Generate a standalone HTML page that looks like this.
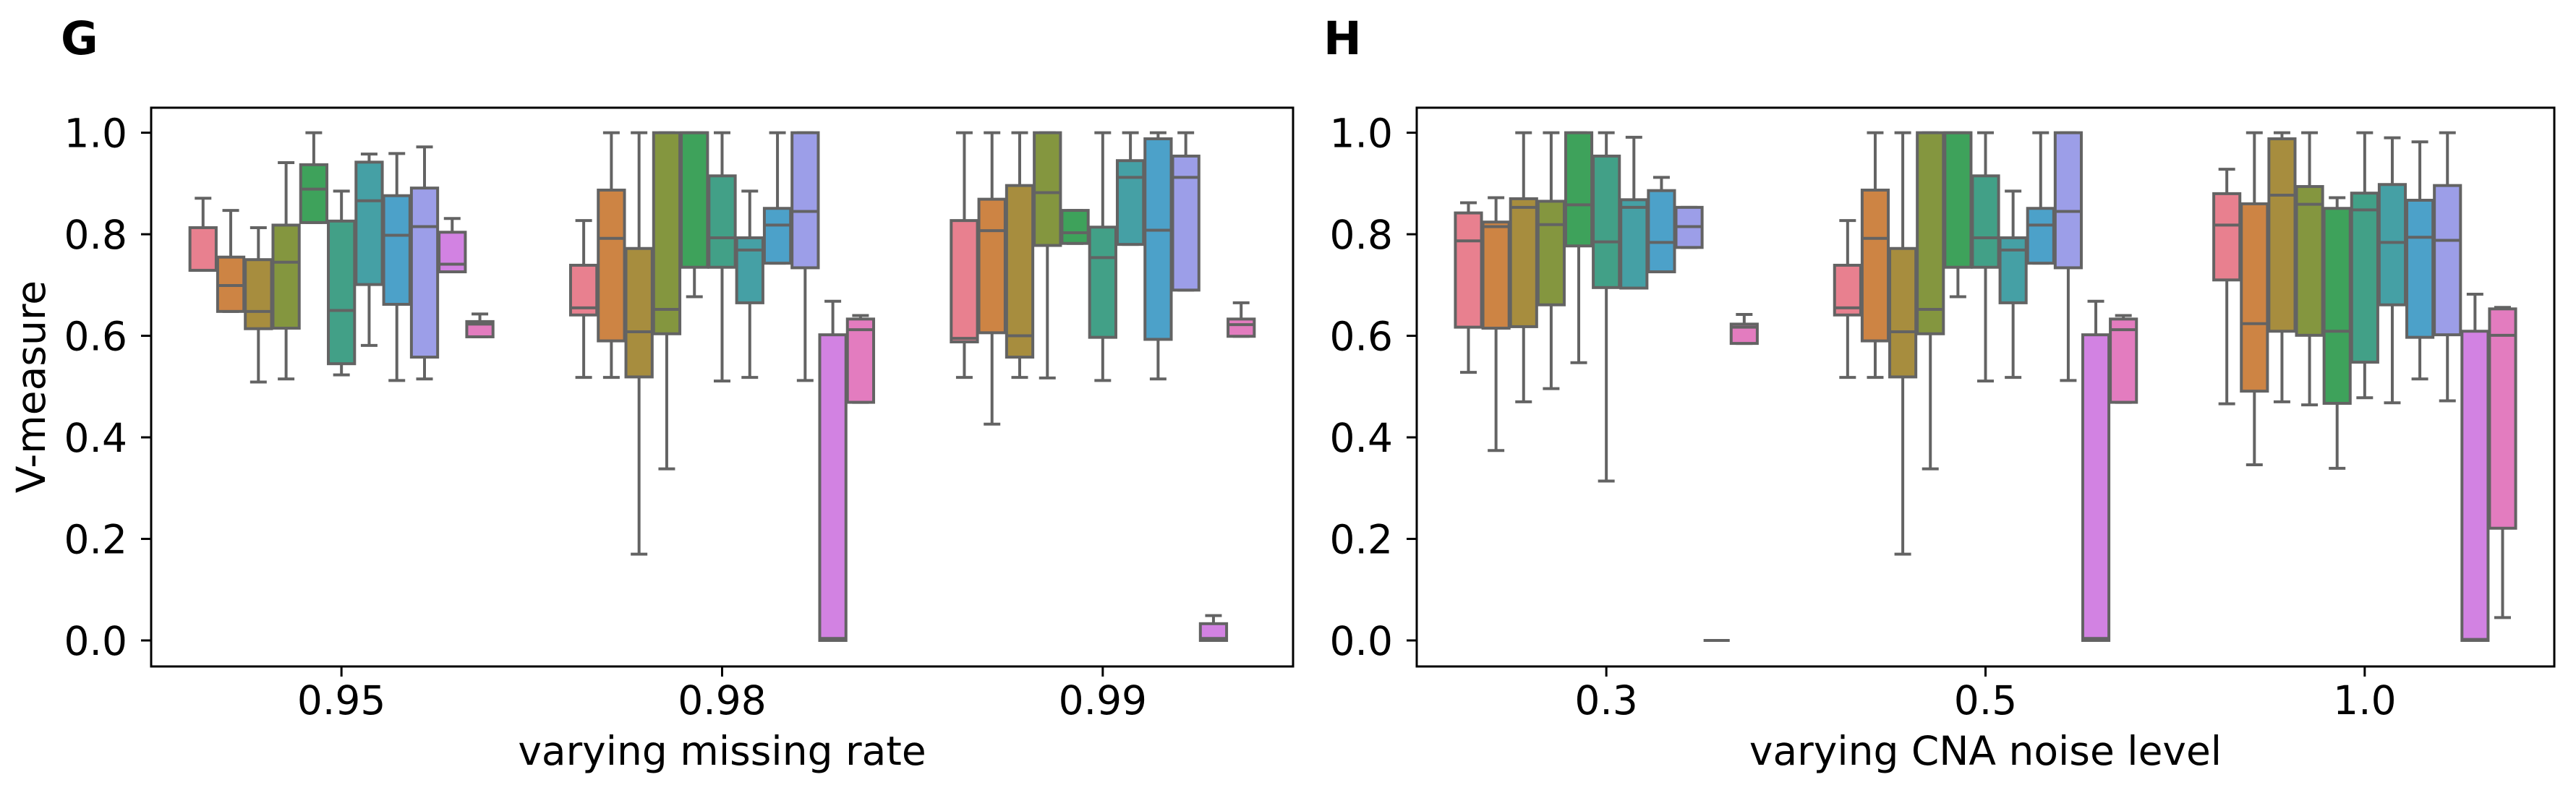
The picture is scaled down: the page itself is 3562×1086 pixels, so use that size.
<!DOCTYPE html>
<html><head><meta charset="utf-8"><style>
html,body{margin:0;padding:0;background:#fff;}
svg{display:block;font-family:"DejaVu Sans","Liberation Sans",sans-serif;}
</style></head><body>
<svg id="chart" width="3562" height="1086" viewBox="0 0 3562 1086" xmlns="http://www.w3.org/2000/svg">
<rect width="3562" height="1086" fill="#fff"/>
<text x="84" y="75" font-size="63" font-weight="bold">G</text>
<text x="1830" y="75" font-size="63" font-weight="bold">H</text>
<text transform="translate(62,535) rotate(-90)" text-anchor="middle" font-size="55">V-measure</text>
<g id="panels"></g>
</svg>
<script>
const hueColors = ["#e8808f","#cd8444","#a78d3e","#84963f","#3ea25b","#42a087","#45a0a5","#4ca1c9","#9c9ee8","#d282e2","#e37cbf"];
const yTicks = [0.0,0.2,0.4,0.6,0.8,1.0];
const yTickLabels = ["0.0","0.2","0.4","0.6","0.8","1.0"];

const gCategories = ["0.95","0.98","0.99"];
const gLo  = [[.729,.648,.509,.515,.823,.523,.581,.512,.515,.726,.598],[.518,.518,.170,.338,.677,.511,.518,.743,.512,0,.469],[.518,.426,.518,.517,.782,.512,.780,.515,.690,0,.599]];
const gQ1  = [[.729,.648,.614,.615,.823,.545,.701,.662,.558,.726,.598],[.641,.590,.519,.604,.735,.735,.665,.743,.734,0,.469],[.588,.606,.558,.778,.782,.597,.780,.593,.690,0,.599]];
const gMed = [[.729,.699,.648,.745,.889,.650,.866,.798,.815,.741,.623],[.655,.792,.608,.652,1.0,.793,.769,.818,.845,.004,.612],[.595,.807,.600,.882,.803,.754,.912,.808,.912,.004,.622]];
const gQ3  = [[.813,.755,.750,.818,.937,.826,.942,.876,.891,.804,.628],[.739,.887,.772,1.0,1.0,.915,.793,.851,1.0,.602,.633],[.827,.869,.896,1.0,.847,.814,.945,.988,.954,.033,.633]];
const gHi  = [[.871,.847,.813,.941,1.0,.885,.958,.959,.972,.831,.643],[.827,1.0,1.0,1.0,1.0,1.0,.885,1.0,1.0,.668,.640],[1.0,1.0,1.0,1.0,.847,1.0,1.0,1.0,1.0,.049,.665]];

const hCategories = ["0.3","0.5","1.0"];
const hLo  = [[.528,.374,.470,.496,.547,.314,.694,.726,.774,0,.585],[.518,.518,.170,.338,.677,.511,.518,.743,.512,0,.469],[.466,.346,.470,.464,.339,.478,.468,.515,.472,0,.045]];
const hQ1  = [[.617,.615,.618,.661,.777,.695,.694,.726,.774,0,.585],[.641,.590,.519,.604,.735,.735,.665,.743,.734,0,.469],[.710,.491,.609,.601,.467,.548,.661,.597,.602,0,.221]];
const hMed = [[.787,.815,.853,.819,.858,.785,.853,.784,.815,0,.617],[.655,.792,.608,.652,1.0,.793,.769,.818,.845,.004,.612],[.818,.624,.877,.859,.609,.848,.784,.794,.788,.002,.601]];
const hQ3  = [[.842,.824,.870,.865,1.0,.954,.868,.886,.853,0,.623],[.739,.887,.772,1.0,1.0,.915,.793,.851,1.0,.602,.633],[.880,.860,.988,.894,.851,.881,.898,.867,.896,.609,.653]];
const hHi  = [[.862,.872,1.0,1.0,1.0,1.0,.991,.912,.853,0,.642],[.827,1.0,1.0,1.0,1.0,1.0,.885,1.0,1.0,.668,.640],[.928,1.0,1.0,1.0,.872,1.0,.990,.982,1.0,.682,.656]];

const NS = "http://www.w3.org/2000/svg";
const root = document.getElementById("panels");
const Y0 = 886, YS = 702.4, TOP = 149, BOT = 922;
function yScale(v){ return Y0 - v*YS; }
function mk(tag, attrs, parent){ const e = document.createElementNS(NS, tag); for (const k in attrs) e.setAttribute(k, attrs[k]); parent.appendChild(e); return e; }

function drawPanel(id, left, right, cats, lo, q1, med, q3, hi, xTitle){
  const g = mk("g", {}, root);
  
  
  const span = (right - left) / cats.length;
  function xScale(i){ return left + span*(i + 0.5); }
  const hueW = span*0.8/11;
  const lc = "#636363";
  cats.forEach((c, ci) => {
    const cx = xScale(ci);
    for (let h = 0; h < 11; h++){
      const bx = cx + (h - 5)*hueW;
      const bg = mk("g", {}, g);
      
      
      const yq1 = yScale(q1[ci][h]), yq3 = yScale(q3[ci][h]);
      const ylo = yScale(lo[ci][h]), yhi = yScale(hi[ci][h]), ym = yScale(med[ci][h]);
      mk("line", {x1:bx, x2:bx, y1:yq3, y2:yhi, stroke:lc, "stroke-width":4}, bg);
      mk("line", {x1:bx, x2:bx, y1:yq1, y2:ylo, stroke:lc, "stroke-width":4}, bg);
      mk("line", {x1:bx-11.5, x2:bx+11.5, y1:yhi, y2:yhi, stroke:lc, "stroke-width":4}, bg);
      mk("line", {x1:bx-11.5, x2:bx+11.5, y1:ylo, y2:ylo, stroke:lc, "stroke-width":4}, bg);
      mk("rect", {x:bx-hueW/2+1, y:yq3, width:hueW-2, height:Math.max(0,yq1-yq3), fill:hueColors[h], stroke:lc, "stroke-width":4}, bg);
      mk("line", {x1:bx-hueW/2+1, x2:bx+hueW/2-1, y1:ym, y2:ym, stroke:lc, "stroke-width":4}, bg);
    }
    const t = mk("line", {x1:cx, x2:cx, y1:BOT, y2:BOT+14, stroke:"#000", "stroke-width":3}, g);
    
    
    const tl = mk("text", {x:cx, y:988, "text-anchor":"middle", "font-size":55}, g);
    tl.textContent = c;
    
    
  });
  yTicks.forEach((v, i) => {
    const y = yScale(v);
    const t = mk("line", {x1:left-14, x2:left, y1:y, y2:y, stroke:"#000", "stroke-width":3}, g);
    
    
    const tl = mk("text", {x:left-33, y:y+20, "text-anchor":"end", "font-size":55}, g);
    tl.textContent = yTickLabels[i];
    
    
  });
  const fr = mk("rect", {x:left, y:TOP, width:right-left, height:BOT-TOP, fill:"none", stroke:"#000", "stroke-width":3}, g);
  
  
  const xt = mk("text", {x:(left+right)/2, y:1058, "text-anchor":"middle", "font-size":55}, g);
  xt.textContent = xTitle;
  
  
}
drawPanel("g", 209, 1788, gCategories, gLo, gQ1, gMed, gQ3, gHi, "varying missing rate");
drawPanel("h", 1959, 3532, hCategories, hLo, hQ1, hMed, hQ3, hHi, "varying CNA noise level");
</script>
</body></html>
